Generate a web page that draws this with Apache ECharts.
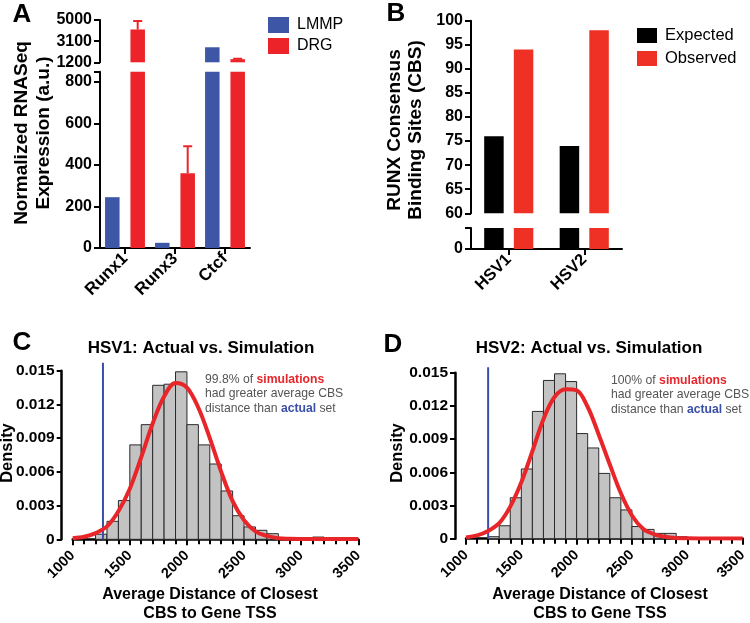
<!DOCTYPE html>
<html><head><meta charset="utf-8">
<script src="https://cdn.jsdelivr.net/npm/echarts@6/dist/echarts.min.js"></script>
<style>html,body{margin:0;padding:0;background:#fff}#c{width:750px;height:623px}</style>
</head><body><div id="c"></div>
<script>
const FONT = '"Liberation Sans", Arial, Helvetica, sans-serif';
// ---- Panel A data ----
const genesA = ['Runx1', 'Runx3', 'Ctcf'];
const lmmpA = [245, 25, 2550];
const drgA = [4150, 360, 1480];
const drgErrTopA = [4900, 490, 1530];
const upperTicksA = [1200, 3100, 5000];
const lowerTicksA = [0, 200, 400, 600, 800];
// ---- Panel B data ----
const virusB = ['HSV1', 'HSV2'];
const expectedB = [76, 74];
const observedB = [94, 98];
// ---- Panel C data ----
const binWidth = 100;
const binStartC = [1200, 1300, 1400, 1500, 1600, 1700, 1800, 1900, 2000, 2100, 2200, 2300, 2400, 2500, 2600, 2700, 3100];
const densC = [0.00045, 0.0016, 0.00345, 0.0084, 0.0102, 0.0137, 0.0138, 0.0149, 0.0102, 0.0084, 0.0067, 0.0043, 0.0021, 0.0011, 0.0008, 0.0005, 0.0002];
const curveX = [1000, 1100, 1200, 1300, 1400, 1500, 1600, 1700, 1800, 1900, 2000, 2100, 2200, 2300, 2400, 2500, 2600, 2700, 2800, 2900, 3000, 3100, 3200, 3300, 3400, 3500];
const curveC = [0.0001, 0.00022, 0.00055, 0.00115, 0.0025, 0.0045, 0.0073, 0.0103, 0.0127, 0.0139, 0.0135, 0.0117, 0.009, 0.006, 0.0034, 0.0017, 0.0007, 0.0003, 0.0001, 0.00005, 0.00003, 0.00002, 0.00002, 0.00002, 0.00002, 0.00002];
const actualC = 1265;
// ---- Panel D data ----
const binStartD = [1200, 1300, 1400, 1500, 1600, 1700, 1800, 1900, 2000, 2100, 2200, 2300, 2400, 2500, 2600, 2700, 2800, 2900];
const densD = [0.00018, 0.00117, 0.0037, 0.0063, 0.0115, 0.0143, 0.0149, 0.0142, 0.0095, 0.0082, 0.0059, 0.0037, 0.0026, 0.0011, 0.00084, 0.00048, 0.00048, 0.00018];
const curveD = [0.00012, 0.0003, 0.0007, 0.0014, 0.0029, 0.0051, 0.0079, 0.0108, 0.0128, 0.0135, 0.0134, 0.0119, 0.0094, 0.0067, 0.0041, 0.0021, 0.0009, 0.0004, 0.00018, 0.00006, 0.00003, 0.00002, 0.00002, 0.00002, 0.00002, 0.00002];
const actualD = 1200;
const xTicksCD = [1000, 3500, 500];
const yTicksCD = [0, 0.015, 0.003];

const BLUE_A = '#3D56A6', RED_A = '#EC2328', RED_B = '#EE3124', BLUE_LINE = '#3A4FA8', RED_CURVE = '#E8262A';
const AX = { lineStyle: { color: '#000', width: 2 } };
const TK = { lineStyle: { color: '#000', width: 2 } };
const plain = v => String(v);

const chart = echarts.init(document.getElementById('c'), null, { renderer: 'canvas' });

function hideX(gi, data) {
  return { type: 'category', gridIndex: gi, data: data, show: false };
}
function catX(gi, data, size) {
  return {
    type: 'category', gridIndex: gi, data: data,
    axisLine: AX, axisTick: { show: true, alignWithLabel: true, length: 6, lineStyle: TK.lineStyle },
    axisLabel: { rotate: 45, margin: 8, fontFamily: FONT, fontWeight: 'bold', fontSize: size, color: '#000' }
  };
}
function valX(gi) {
  return {
    type: 'value', gridIndex: gi, min: xTicksCD[0], max: xTicksCD[1], interval: xTicksCD[2], offset: 7,
    axisLine: { show: true, lineStyle: { color: '#000', width: 2.5 } },
    axisTick: { show: true, length: 6, lineStyle: { color: '#000', width: 2 } },
    minorTick: { show: true, splitNumber: 5, length: 5, lineStyle: { color: '#000', width: 2 } },
    splitLine: { show: false },
    axisLabel: { rotate: 45, margin: 7, fontFamily: FONT, fontWeight: 'bold', fontSize: 14.5, color: '#000', formatter: plain }
  };
}
function valYCD(gi) {
  return {
    type: 'value', gridIndex: gi, min: yTicksCD[0], max: yTicksCD[1], interval: yTicksCD[2], offset: 11,
    axisLine: { show: true, lineStyle: { color: '#000', width: 2.5 } },
    axisTick: { show: true, length: 5, lineStyle: { color: '#000', width: 2 } },
    splitLine: { show: false },
    axisLabel: { margin: 7, fontFamily: FONT, fontWeight: 'bold', fontSize: 15.5, color: '#000',
      formatter: v => v === 0 ? '0' : v.toFixed(3) }
  };
}
const yLabA = { fontFamily: FONT, fontWeight: 'bold', fontSize: 16, color: '#000', margin: 8, formatter: plain };

function errSeries(xi, yi) {
  return {
    type: 'custom', xAxisIndex: xi, yAxisIndex: yi, clip: true, z: 5,
    data: genesA.map((g, i) => [i, drgA[i], drgErrTopA[i]]),
    renderItem: function (params, api) {
      const base = api.coord([api.value(0), api.value(1)]);
      const top = api.coord([api.value(0), api.value(2)]);
      const x = base[0] + 12.7;
      return { type: 'group', children: [
        { type: 'line', shape: { x1: x, y1: base[1], x2: x, y2: top[1] }, style: { stroke: RED_A, lineWidth: 2 } },
        { type: 'line', shape: { x1: x - 4.5, y1: top[1], x2: x + 4.5, y2: top[1] }, style: { stroke: RED_A, lineWidth: 2 } }
      ] };
    }
  };
}
function histSeries(xi, yi, starts, dens) {
  return {
    type: 'custom', xAxisIndex: xi, yAxisIndex: yi, z: 2,
    data: starts.map((s, i) => [s, s + binWidth, dens[i]]),
    encode: { x: [0, 1], y: 2 },
    renderItem: function (params, api) {
      const p0 = api.coord([api.value(0), api.value(2)]);
      const p1 = api.coord([api.value(1), 0]);
      return { type: 'rect', shape: { x: p0[0], y: p0[1], width: p1[0] - p0[0], height: p1[1] - p0[1] },
        style: { fill: '#C3C3C3', stroke: '#2a2a2a', lineWidth: 1 } };
    }
  };
}
function curveSeries(xi, yi, ys) {
  return { type: 'line', xAxisIndex: xi, yAxisIndex: yi, z: 4, smooth: 0.35, showSymbol: false, symbol: 'none',
    data: curveX.map((x, i) => [x, ys[i]]), lineStyle: { color: RED_CURVE, width: 4 } };
}
function actualSeries(xi, yi, v, top) {
  return { type: 'line', xAxisIndex: xi, yAxisIndex: yi, z: 3, clip: false, showSymbol: false, symbol: 'none',
    data: [[v, 0], [v, top]], lineStyle: { color: BLUE_LINE, width: 2 } };
}
function txt(x, y, text, size, lh) {
  return { type: 'text', x: x, y: y, style: { text: text, fontFamily: FONT, fontSize: size,
    fontWeight: 'bold', fill: '#000', align: 'center', verticalAlign: 'middle', lineHeight: lh || size * 1.2 } };
}
function rotTxt(x, y, text, size, lh) {
  return { type: 'text', x: x, y: y, rotation: Math.PI / 2,
    style: { text: text, fontFamily: FONT, fontSize: size, fontWeight: 'bold', fill: '#000', align: 'center', verticalAlign: 'middle', lineHeight: lh } };
}
function annot(x, y, first) {
  return { type: 'text', x: x, y: y, style: {
    text: first + ' of {r|simulations}\nhad greater average CBS\ndistance than {b|actual} set',
    fontFamily: FONT, fontSize: 12.2, fill: '#555', lineHeight: 14.5, align: 'left', verticalAlign: 'top',
    rich: { r: { fill: RED_CURVE, fontWeight: 'bold', fontSize: 12.2, fontFamily: FONT, lineHeight: 14.5 },
            b: { fill: BLUE_LINE, fontWeight: 'bold', fontSize: 12.2, fontFamily: FONT, lineHeight: 14.5 } } } };
}

const option = {
  backgroundColor: '#fff',
  animation: false,
  legend: [
    { data: ['LMMP', 'DRG'], left: 268, top: 17, padding: 0, orient: 'vertical', itemWidth: 21, itemHeight: 16, itemGap: 5, icon: 'rect',
      selectedMode: false, textStyle: { fontFamily: FONT, fontSize: 16, color: '#000', padding: [0, 0, 0, 3] } },
    { data: ['Expected', 'Observed'], left: 637, top: 27, padding: 0, orient: 'vertical', itemWidth: 20, itemHeight: 15, itemGap: 6, icon: 'rect',
      selectedMode: false, textStyle: { fontFamily: FONT, fontSize: 16.5, color: '#000', padding: [0, 0, 0, 3] } }
  ],
  grid: [
    { left: 100, top: 20, width: 150, height: 42.3 },
    { left: 100, top: 71.7, width: 150, height: 176.3 },
    { left: 471, top: 20.7, width: 151, height: 192.6 },
    { left: 471, top: 228, width: 151, height: 21 },
    { left: 72.7, top: 370.7, width: 285.6, height: 168.6 },
    { left: 466, top: 372.7, width: 278, height: 166 }
  ],
  xAxis: [ hideX(0, genesA), catX(1, genesA, 17), hideX(2, virusB), catX(3, virusB, 16.5), valX(4), valX(5) ],
  yAxis: [
    { type: 'value', gridIndex: 0, min: upperTicksA[0], max: upperTicksA[upperTicksA.length - 1], splitLine: { show: false },
      axisLine: { show: true, lineStyle: AX.lineStyle },
      axisTick: { show: true, length: 6, customValues: upperTicksA, lineStyle: TK.lineStyle },
      axisLabel: Object.assign({ customValues: upperTicksA }, yLabA) },
    { type: 'value', gridIndex: 1, min: 0, max: 850, splitLine: { show: false },
      axisLine: { show: true, lineStyle: AX.lineStyle },
      axisTick: { show: true, length: 6, customValues: lowerTicksA.concat([850]), lineStyle: TK.lineStyle },
      axisLabel: Object.assign({ customValues: lowerTicksA }, yLabA) },
    { type: 'value', gridIndex: 2, min: 60, max: 100, interval: 5, splitLine: { show: false },
      axisLine: { show: true, lineStyle: AX.lineStyle },
      axisTick: { show: true, length: 6, lineStyle: TK.lineStyle }, axisLabel: yLabA },
    { type: 'value', gridIndex: 3, min: 0, max: 10, interval: 10, splitLine: { show: false },
      axisLine: { show: true, lineStyle: AX.lineStyle },
      axisTick: { show: true, length: 6, lineStyle: TK.lineStyle },
      axisLabel: Object.assign({}, yLabA, { formatter: v => v === 0 ? '0' : '' }) },
    valYCD(4), valYCD(5)
  ],
  series: [
    { name: 'LMMP', type: 'bar', xAxisIndex: 0, yAxisIndex: 0, data: lmmpA, barWidth: 14.5, barGap: '75%', itemStyle: { color: BLUE_A } },
    { name: 'DRG', type: 'bar', xAxisIndex: 0, yAxisIndex: 0, data: drgA, barWidth: 14.5, barGap: '75%', itemStyle: { color: RED_A } },
    { name: 'LMMP', type: 'bar', xAxisIndex: 1, yAxisIndex: 1, data: lmmpA, barWidth: 14.5, barGap: '75%', itemStyle: { color: BLUE_A } },
    { name: 'DRG', type: 'bar', xAxisIndex: 1, yAxisIndex: 1, data: drgA, barWidth: 14.5, barGap: '75%', itemStyle: { color: RED_A } },
    errSeries(0, 0), errSeries(1, 1),
    { name: 'Expected', type: 'bar', xAxisIndex: 2, yAxisIndex: 2, data: expectedB, barWidth: 19.5, barGap: '52%', itemStyle: { color: '#000' } },
    { name: 'Observed', type: 'bar', xAxisIndex: 2, yAxisIndex: 2, data: observedB, barWidth: 19.5, barGap: '52%', itemStyle: { color: RED_B } },
    { name: 'Expected', type: 'bar', xAxisIndex: 3, yAxisIndex: 3, data: expectedB, barWidth: 19.5, barGap: '52%', itemStyle: { color: '#000' } },
    { name: 'Observed', type: 'bar', xAxisIndex: 3, yAxisIndex: 3, data: observedB, barWidth: 19.5, barGap: '52%', itemStyle: { color: RED_B } },
    histSeries(4, 4, binStartC, densC), actualSeries(4, 4, actualC, 0.0157), curveSeries(4, 4, curveC),
    histSeries(5, 5, binStartD, densD), actualSeries(5, 5, actualD, 0.0155), curveSeries(5, 5, curveD)
  ],
  graphic: [
    txt(22, 15, 'A', 26), txt(396, 14, 'B', 26), txt(22, 343, 'C', 26), txt(393, 345, 'D', 26),
    rotTxt(33, 133, 'Normalized RNASeq\nExpression (a.u.)', 19, 21.5),
    rotTxt(405, 130, 'RUNX Consensus\nBinding Sites (CBS)', 19, 21),
    rotTxt(7, 453, 'Density', 16.5, 18), rotTxt(397, 453, 'Density', 16.5, 18),
    txt(201, 348, 'HSV1: Actual vs. Simulation', 17), txt(589, 348, 'HSV2: Actual vs. Simulation', 17),
    txt(210, 604, 'Average Distance of Closest\nCBS to Gene TSS', 16, 18.5),
    txt(600, 604, 'Average Distance of Closest\nCBS to Gene TSS', 16, 18.5),
    annot(205, 372, '99.8%'), annot(611, 373, '100%')
  ]
};
chart.setOption(option);
</script></body></html>
